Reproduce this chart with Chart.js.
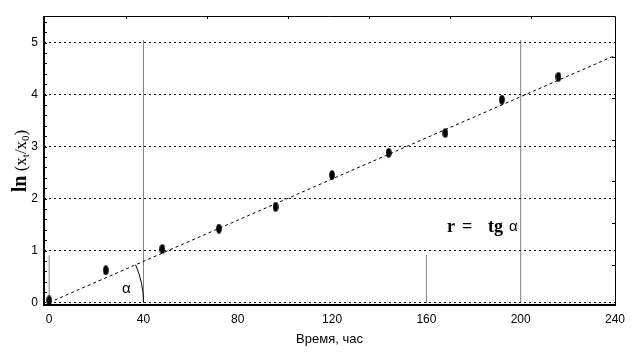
<!DOCTYPE html>
<html>
<head>
<meta charset="utf-8">
<script src="https://cdn.jsdelivr.net/npm/chart.js@4.4.1/dist/chart.umd.min.js"></script>
<style>
html,body{margin:0;padding:0;background:#fff;}
canvas{display:block;}
</style>
</head>
<body>
<canvas id="c" width="637" height="355"></canvas>
<script>
// ---- data ----
const timeH    = [0, 24, 48, 72, 96, 120, 144, 168, 192, 216];
const lnRatio  = [0.04, 0.62, 1.03, 1.42, 1.84, 2.45, 2.88, 3.26, 3.9, 4.34];
const fitX     = [0, 240];
const fitY     = [0, 4.75];
const xTicks   = [0, 40, 80, 120, 160, 200, 240];
const yTicks   = [0, 1, 2, 3, 4, 5];
const refX     = [0, 40, 160, 200];
const refTop   = [0.9, 5.05, 0.92, 5.05];
const xTitle   = 'Время, час';
const formulaText = ['r', '=', 'tg', 'α'];

// ellipse marker
const mk = document.createElement('canvas');
mk.width = 6; mk.height = 10;
(function(){
  const g = mk.getContext('2d');
  g.fillStyle = '#000';
  g.beginPath();
  g.ellipse(3, 5, 2.8, 4.8, 0, 0, Math.PI * 2);
  g.fill();
})();

const datasets = [];
refX.forEach((x, i) => {
  datasets.push({
    type: 'line',
    data: [{x: x, y: 0}, {x: x, y: refTop[i]}],
    borderColor: '#000', borderWidth: 1, borderDash: [1, 1],
    pointRadius: 0, fill: false
  });
});
datasets.push({
  type: 'line',
  data: fitX.map((x, i) => ({x: x, y: fitY[i]})),
  borderColor: '#000', borderWidth: 1, borderDash: [3, 3],
  pointRadius: 0, fill: false
});
datasets.push({
  type: 'scatter',
  data: timeH.map((x, i) => ({x: x, y: lnRatio[i]})),
  pointStyle: mk, pointRadius: 5, backgroundColor: '#000', borderColor: '#000'
});

const deco = {
  id: 'deco',
  afterDatasetsDraw(chart) {
    const ctx = chart.ctx, a = chart.chartArea;
    const xs = chart.scales.x, ys = chart.scales.y;
    ctx.save();
    ctx.strokeStyle = '#000';
    ctx.setLineDash([]);
    // frame
    ctx.lineWidth = 1;
    ctx.beginPath();
    ctx.moveTo(a.left, a.top + 0.5); ctx.lineTo(a.right + 0.5, a.top + 0.5);
    ctx.lineTo(a.right + 0.5, a.bottom);
    ctx.stroke();
    ctx.lineWidth = 2;
    ctx.beginPath();
    ctx.moveTo(a.left, a.top); ctx.lineTo(a.left, a.bottom + 1);
    ctx.lineTo(a.right + 1, a.bottom + 1);
    ctx.stroke();
    // minor ticks
    ctx.lineWidth = 1;
    ctx.beginPath();
    for (let v = 0.2; v < 5.45; v += 0.2) {
      const y = Math.round(ys.getPixelForValue(v)) + 0.5;
      ctx.moveTo(a.left, y); ctx.lineTo(a.left + 3, y);
    }
    for (let v = 0.73; v < 5.4; v += 0.8) {
      const y = Math.round(ys.getPixelForValue(v)) + 0.5;
      ctx.moveTo(a.right, y); ctx.lineTo(a.right - 3, y);
    }
    for (let v = 32.7; v < 238; v += 34.3) {
      const x = Math.round(xs.getPixelForValue(v)) + 0.5;
      ctx.moveTo(x, a.top); ctx.lineTo(x, a.top + 3);
    }
    ctx.stroke();
    // angle arc
    const cx = xs.getPixelForValue(0), cy = ys.getPixelForValue(0);
    const r = xs.getPixelForValue(40) - cx;
    const ang = Math.atan2(cy - ys.getPixelForValue(fitY[1]), xs.getPixelForValue(fitX[1]) - cx);
    ctx.beginPath();
    ctx.arc(cx, cy, r, -ang, 0);
    ctx.stroke();
    // alpha label
    ctx.fillStyle = '#000';
    ctx.textBaseline = 'alphabetic';
    ctx.textAlign = 'left';
    ctx.font = '15px "Liberation Sans", Arial, sans-serif';
    ctx.fillText('α', 122, 293);
    // formula
    ctx.font = 'bold 18px "Liberation Serif", "Times New Roman", serif';
    ctx.fillText(formulaText[0], 447, 232);
    ctx.fillText(formulaText[1], 462, 232);
    ctx.fillText(formulaText[2], 488, 232);
    ctx.font = '15px "Liberation Sans", Arial, sans-serif';
    ctx.fillText(formulaText[3], 509, 231);
    // y title
    const segs = [
      {t: 'ln', f: 'bold 20px "Liberation Serif", serif', dy: 0},
      {t: ' (', f: '17px "Liberation Serif", serif', dy: 0},
      {t: 'x', f: '17px "Liberation Serif", serif', dy: 0},
      {t: 't', f: '11px "Liberation Serif", serif', dy: 3},
      {t: '/', f: '17px "Liberation Serif", serif', dy: 0},
      {t: 'x', f: '17px "Liberation Serif", serif', dy: 0},
      {t: '0', f: '11px "Liberation Serif", serif', dy: 3},
      {t: ')', f: '17px "Liberation Serif", serif', dy: 0}
    ];
    let tot = 0;
    segs.forEach(s => { ctx.font = s.f; s.w = ctx.measureText(s.t).width; tot += s.w; });
    ctx.translate(26, (a.top + a.bottom) / 2 + 1);
    ctx.rotate(-Math.PI / 2);
    let px = -tot / 2;
    segs.forEach(s => { ctx.font = s.f; ctx.fillText(s.t, px, s.dy); px += s.w; });
    ctx.restore();
  }
};

new Chart(document.getElementById('c'), {
  data: {datasets: datasets},
  options: {
    responsive: false,
    devicePixelRatio: 1,
    animation: false,
    events: [],
    layout: {padding: {left: 0, right: 22, top: 16, bottom: 0}},
    plugins: {legend: {display: false}, tooltip: {enabled: false}},
    scales: {
      x: {
        type: 'linear', min: -2.2, max: 240,
        afterBuildTicks: s => { s.ticks = xTicks.map(v => ({value: v})); },
        afterFit: s => { s.height = 51; s.paddingLeft = 0; s.paddingRight = 0; },
        grid: {display: false, drawTicks: false},
        border: {display: false},
        ticks: {padding: 8, color: '#000', font: {family: '"Liberation Sans", Arial, sans-serif', size: 12}},
        title: {display: true, text: xTitle, color: '#000', padding: {top: 0, bottom: 8},
                font: {family: '"Liberation Sans", Arial, sans-serif', size: 13}}
      },
      y: {
        type: 'linear', min: -0.0288, max: 5.51,
        afterBuildTicks: s => { s.ticks = yTicks.map(v => ({value: v})); },
        afterFit: s => { s.width = 44; s.paddingTop = 0; s.paddingBottom = 0; },
        grid: {color: '#000', lineWidth: 1, drawTicks: false},
        border: {display: false, dash: [2, 3]},
        ticks: {padding: 6, color: '#000', font: {family: '"Liberation Sans", Arial, sans-serif', size: 12}}
      }
    }
  },
  plugins: [deco]
});
</script>
</body>
</html>
